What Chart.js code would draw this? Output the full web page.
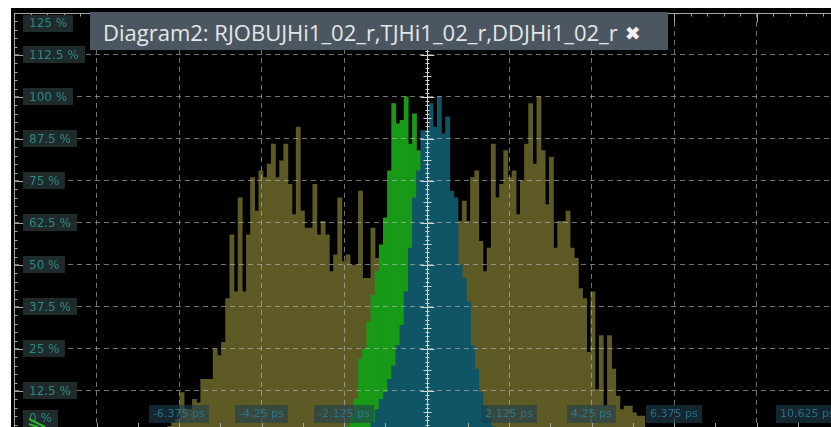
<!DOCTYPE html>
<html>
<head>
<meta charset="utf-8">
<script src="https://cdn.jsdelivr.net/npm/chart.js@4.4.1/dist/chart.umd.min.js"></script>
<style>
  html, body { margin: 0; padding: 0; background: #fff; overflow: hidden; }
  #wrap { position: relative; width: 831px; height: 427px; overflow: hidden; }
  #chart { position: absolute; left: 0; top: 0; }
  #title {
    position: absolute; left: 90px; top: 12px; width: 578px; height: 38px;
    box-sizing: border-box; padding-left: 13px;
    background: #4b5661; color: #e4e6e8;
    font: 22px "Open Sans", sans-serif; line-height: 41px; white-space: nowrap;
  }
  #title b { font-family: "DejaVu Sans", sans-serif; font-size: 19px; margin-left: 7px; vertical-align: 1px; color: #f2f2f2; }
</style>
</head>
<body>
<div id="wrap">
  <canvas id="chart" width="860" height="440"></canvas>
  <div id="title">Diagram2: RJOBUJHi1_02_r,TJHi1_02_r,DDJHi1_02_r<b>✖</b></div>
</div>
<script>
// ---------- DATA ----------
// histogram bins: bin k spans BIN_ORIGIN + k*BIN_WIDTH (ps), values in % of peak
const BIN_ORIGIN = -10.631;
const BIN_WIDTH = 0.1069;

const ddjStart = 36; // olive, DDJHi1_02_r
const ddjValues = [
  1, 2, 3, 4, 12, 7, 7, 10, 9, 16, 16, 16, 25, 23, 27, 40, 59, 42, 70, 42,
  59, 76, 66, 78, 76, 80, 86, 76, 81, 86, 74, 65, 91, 66, 61, 61, 74, 59, 63, 59,
  48, 53, 70, 51, 53, 50, 50, 72, 46, 46, 61, 52, 44, 40, 36, 33, 30, 28, 27, 26,
  26, 27, 28, 30, 32, 35, 38, 42, 47, 52, 58, 63, 69, 63, 76, 78, 57, 48, 55, 86,
  70, 74, 84, 76, 78, 65, 75, 86, 98, 80, 100, 84, 68, 82, 55, 63, 63, 66, 55, 52,
  43, 40, 24, 42, 13, 29, 8, 29, 19, 11, 7, 8, 8, 6, 5, 5
];

const rjStart = 80; // green, RJOBUJHi1_02_r
const rjValues = [
  2, 5, 10, 22, 25, 33, 41, 48, 56, 64, 78, 98, 92, 93, 100, 86, 95, 84, 78, 70,
  60, 50, 40, 30, 20, 12, 6, 3
];

const tjStart = 86; // teal, TJHi1_02_r
const tjValues = [
  3, 7, 10, 12, 16, 20, 26, 32, 42, 55, 70, 78, 90, 90, 98, 91, 100, 89, 94, 72,
  70, 50, 46, 39, 26, 19, 12, 8, 4, 2
];

const X_MIN = -10.625;
const X_MAX = 10.625;
const X_STEP = 2.125;
const xLabelValues = [-6.375, -4.25, -2.125, 2.125, 4.25, 6.375, 10.625];
const xLabelTexts = ["-6.375 ps", "-4.25 ps", "-2.125 ps", "2.125 ps", "4.25 ps", "6.375 ps", "10.625 ps"];

const Y_MAX = 125;
const Y_STEP = 12.5;
const yLabelValues = [0, 12.5, 25, 37.5, 50, 62.5, 75, 87.5, 100, 112.5, 125];
const yLabelTexts = ["0 %", "12.5 %", "25 %", "37.5 %", "50 %", "62.5 %", "75 %", "87.5 %", "100 %", "112.5 %", "125 %"];

// ---------- HELPERS ----------
function toPoints(start, values) {
  return values.map((v, i) => ({ x: +(BIN_ORIGIN + (start + i + 0.5) * BIN_WIDTH).toFixed(4), y: v }));
}

function gridColorX(ctx) {
  const v = ctx.tick ? ctx.tick.value : 0;
  if (Math.abs(v) < 1e-6 || Math.abs(v) > X_MAX - 0.01) return "rgba(0,0,0,0)";
  return "rgba(190,190,190,0.6)";
}

function gridColorY(ctx) {
  const v = ctx.tick ? ctx.tick.value : 0;
  if (v < 0.01 || v > Y_MAX - 0.01) return "rgba(0,0,0,0)";
  return "rgba(190,190,190,0.6)";
}

function line(c, x1, y1, x2, y2) {
  c.beginPath();
  c.moveTo(x1, y1);
  c.lineTo(x2, y2);
  c.stroke();
}

// ---------- FRAME / AXES / LABELS ----------
const scopeFrame = {
  id: "scopeFrame",
  beforeDraw(chart) {
    const c = chart.ctx;
    c.save();
    c.fillStyle = "#ffffff";
    c.fillRect(0, 0, chart.width, chart.height);
    c.fillStyle = "#000000";
    c.fillRect(11, 8, chart.width - 11, chart.height - 8);
    c.restore();
  },
  afterDraw(chart) {
    const { ctx: c, chartArea: a, scales: { x, y } } = chart;
    c.save();
    c.lineWidth = 1;

    // left + top borders with ticks
    c.strokeStyle = "#a6a6a6";
    const lx = Math.round(a.left) + 0.5;
    const ty = Math.round(a.top) + 0.5;
    line(c, lx, a.top, lx, a.bottom);
    line(c, a.left, ty, a.right, ty);
    for (let v = 0; v <= Y_MAX + 0.001; v += Y_STEP / 5) {
      const py = Math.round(y.getPixelForValue(v)) + 0.5;
      const major = Math.abs(v / Y_STEP - Math.round(v / Y_STEP)) < 1e-6;
      line(c, lx, py, lx + (major ? 9 : 3), py);
    }
    for (let v = X_MIN; v <= X_MAX + 0.001; v += X_STEP / 5) {
      const px = Math.round(x.getPixelForValue(v)) + 0.5;
      const major = Math.abs((v - X_MIN) / X_STEP - Math.round((v - X_MIN) / X_STEP)) < 1e-6;
      line(c, px, ty, px, ty + (major ? 9 : 3));
    }

    // bottom ticks (axis itself sits just below the window)
    for (let v = X_MIN; v <= X_MAX + 0.001; v += X_STEP / 2) {
      const px = Math.round(x.getPixelForValue(v)) + 0.5;
      line(c, px, a.bottom, px, a.bottom - 10);
    }

    // centre axis
    c.strokeStyle = "#d4d4d4";
    const cx = Math.round(x.getPixelForValue(0)) + 0.5;
    line(c, cx, a.top, cx, a.bottom);
    for (let v = 0; v <= Y_MAX + 0.001; v += Y_STEP / 10) {
      const py = Math.round(y.getPixelForValue(v)) + 0.5;
      const n = Math.round(v / (Y_STEP / 10));
      const len = n % 10 === 0 ? 7 : (n % 5 === 0 ? 4 : 2);
      line(c, cx - len, py, cx + len, py);
    }

    // y labels
    c.font = "12px 'DejaVu Sans'";
    c.textBaseline = "middle";
    c.textAlign = "left";
    yLabelValues.forEach((v, i) => {
      let py = y.getPixelForValue(v);
      py = Math.min(Math.max(py, a.top + 10.5), 418.5);
      const w = c.measureText(yLabelTexts[i]).width + 12;
      c.fillStyle = "#1f2b2b";
      c.fillRect(23, Math.round(py - 8.5), Math.round(w), 17);
      c.fillStyle = "#2d8886";
      c.fillText(yLabelTexts[i], 29, py + 0.5);
    });

    // x labels
    c.font = "11px 'DejaVu Sans'";
    xLabelValues.forEach((v, i) => {
      const px = x.getPixelForValue(v);
      const w = Math.round(c.measureText(xLabelTexts[i]).width + 8);
      const left = Math.round(Math.min(px - w / 2, a.right - w));
      c.fillStyle = "rgba(32,62,78,0.62)";
      c.fillRect(left, 405, w, 18);
      c.fillStyle = "rgba(46,128,158,0.8)";
      c.fillText(xLabelTexts[i], left + 4, 414.5);
    });

    // little green marker in the corner
    c.strokeStyle = "#2fb02f";
    c.lineWidth = 2;
    line(c, 29, 419, 45, 427);
    line(c, 29, 424, 38, 427);
    c.restore();
  }
};

// ---------- CHART ----------
new Chart(document.getElementById("chart"), {
  type: "bar",
  data: {
    datasets: [
      { label: "TJHi1_02_r", data: toPoints(tjStart, tjValues), backgroundColor: "#0f5566" },
      { label: "RJOBUJHi1_02_r", data: toPoints(rjStart, rjValues), backgroundColor: "#189a18" },
      { label: "DDJHi1_02_r", data: toPoints(ddjStart, ddjValues), backgroundColor: "#5e5a25" },
    ],
  },
  options: {
    responsive: false,
    animation: false,
    devicePixelRatio: 1,
    layout: { padding: { left: 14.2, top: 12.9, right: 20.8, bottom: 7 } },
    datasets: { bar: { grouped: false, barPercentage: 1, categoryPercentage: 1, borderWidth: 0 } },
    plugins: { legend: { display: false }, tooltip: { enabled: false } },
    scales: {
      x: {
        type: "linear", min: X_MIN, max: X_MAX, offset: false,
        ticks: { display: false, stepSize: X_STEP },
        grid: { z: 1, offset: false, drawTicks: false, color: gridColorX, lineWidth: 1 },
        border: { display: false, dash: [5, 4] },
      },
      y: {
        min: 0, max: Y_MAX,
        ticks: { display: false, stepSize: Y_STEP },
        grid: { z: 1, drawTicks: false, color: gridColorY, lineWidth: 1 },
        border: { display: false, dash: [5, 4] },
      },
    },
  },
  plugins: [scopeFrame],
});
</script>
</body>
</html>
